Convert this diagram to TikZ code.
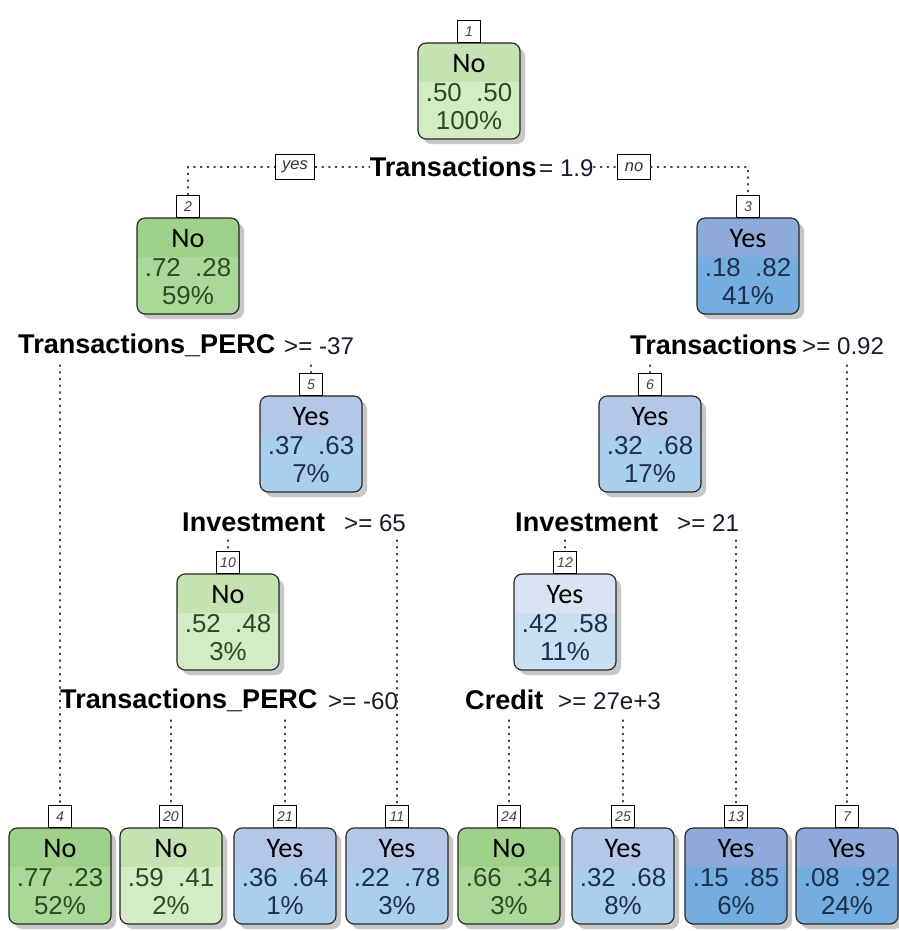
\documentclass[tikz,border=0pt]{standalone}
\usepackage{fontspec}
\setmainfont{Liberation Sans}
\newfontfamily\lblfont{Carlito}
\definecolor{gLtop}{HTML}{C5E2B3}
\definecolor{gLbot}{HTML}{D3ECC6}
\definecolor{gDtop}{HTML}{9FD18A}
\definecolor{gDbot}{HTML}{A9D899}
\definecolor{bLtop}{HTML}{B4C7E7}
\definecolor{bLbot}{HTML}{A9CFEC}
\definecolor{bXtop}{HTML}{DAE3F3}
\definecolor{bXbot}{HTML}{C8E0F2}
\definecolor{bDtop}{HTML}{8EAADB}
\definecolor{bDbot}{HTML}{74ADDF}
\definecolor{gtxt}{HTML}{2B4A22}
\definecolor{btxt}{HTML}{1E2E4E}
\definecolor{valtxt}{HTML}{1A1A2A}
\tikzset{
  nodeshadow/.style={fill=black!22, rounded corners=7pt},
  nodeborder/.style={draw=black!85, line width=1pt, rounded corners=7pt},
  classlab/.style={inner sep=0pt, font=\lblfont\fontsize{24}{24}\selectfont, text=black},
  numlab/.style={inner sep=0pt, font=\fontsize{22}{22}\selectfont},
  idbox/.style={anchor=south, draw=black, fill=white, line width=0.8pt, minimum height=19pt, minimum width=19pt, inner sep=2pt, font=\fontsize{12}{12}\selectfont\itshape, text=black!75},
  yesno/.style={draw=black, fill=white, line width=0.8pt, minimum height=21pt, inner xsep=6pt, inner ysep=2pt, font=\fontsize{14}{14}\selectfont\itshape, text=black!80},
  splitvar/.style={inner sep=0pt, font=\bfseries\fontsize{23}{23}\selectfont, text=black},
  splitval/.style={inner sep=0pt, font=\fontsize{20.5}{20.5}\selectfont, text=valtxt},
  conn/.style={draw=black!75, line width=1.1pt, dash pattern=on 1.1pt off 4.6pt, line cap=round}
}
\newcommand{\treenode}[8]{%
  \fill[nodeshadow] ({#2-51+5},{#3+5}) rectangle ({#2+51+5},{#3+96+5});
  \begin{scope}
    \clip[rounded corners=7pt] ({#2-51},#3) rectangle ({#2+51},{#3+96});
    \fill[#7top] ({#2-52},{#3-1}) rectangle ({#2+52},{#3+39});
    \fill[#7bot] ({#2-52},{#3+39}) rectangle ({#2+52},{#3+97});
  \end{scope}
  \draw[nodeborder] ({#2-51},#3) rectangle ({#2+51},{#3+96});
  \node[classlab] (lab#1) at (#2,{#3+21}) {#4};
  \node[numlab, text=#8] (prob#1) at (#2,{#3+50}) {#5};
  \node[numlab, text=#8] (pct#1) at (#2,{#3+78}) {#6};
  \node[idbox] (b#1) at (#2,#3) {#1};
}
\begin{document}
\begin{tikzpicture}[x=0.85pt,y=-0.85pt]
\useasboundingbox (0,0) rectangle (899,931);
\fill[white] (0,0) rectangle (899,931);

% ---- internal nodes
\treenode{1}{469}{43}{No}{.50\ \ .50}{100\%}{gL}{gtxt}
\treenode{2}{188}{218}{No}{.72\ \ .28}{59\%}{gD}{gtxt}
\treenode{3}{748}{218}{Yes}{.18\ \ .82}{41\%}{bD}{btxt}
\treenode{5}{311}{396}{Yes}{.37\ \ .63}{7\%}{bL}{btxt}
\treenode{6}{650}{396}{Yes}{.32\ \ .68}{17\%}{bL}{btxt}
\treenode{10}{228}{574}{No}{.52\ \ .48}{3\%}{gL}{gtxt}
\treenode{12}{565}{574}{Yes}{.42\ \ .58}{11\%}{bX}{btxt}

% ---- leaves
\treenode{4}{60}{828}{No}{.77\ \ .23}{52\%}{gD}{gtxt}
\treenode{20}{171}{828}{No}{.59\ \ .41}{2\%}{gL}{gtxt}
\treenode{21}{285}{828}{Yes}{.36\ \ .64}{1\%}{bL}{btxt}
\treenode{11}{397}{828}{Yes}{.22\ \ .78}{3\%}{bL}{btxt}
\treenode{24}{509}{828}{No}{.66\ \ .34}{3\%}{gD}{gtxt}
\treenode{25}{623}{828}{Yes}{.32\ \ .68}{8\%}{bL}{btxt}
\treenode{13}{736}{828}{Yes}{.15\ \ .85}{6\%}{bD}{btxt}
\treenode{7}{847}{828}{Yes}{.08\ \ .92}{24\%}{bD}{btxt}

% ---- split labels
\node[splitvar, anchor=east] (s1var) at (537,167) {Transactions};
\node[splitval, anchor=west] (s1val) at (539,168) {= 1.9};
\node[yesno] (yes) at (295,167) {yes};
\node[yesno] (no) at (634,167) {no};

\node[splitvar, anchor=west] (s2var) at (18,345) {Transactions\_PERC};
\node[splitval, anchor=west] (s2val) at (284,346) {>= -37};
\node[splitvar, anchor=west] (s3var) at (630,345) {Transactions};
\node[splitval, anchor=west] (s3val) at (802,346) {>= 0.92};

\node[splitvar, anchor=west] (s5var) at (182,522) {Investment};
\node[splitval, anchor=west] (s5val) at (344,523) {>= 65};
\node[splitvar, anchor=west] (s6var) at (515,522) {Investment};
\node[splitval, anchor=west] (s6val) at (677,523) {>= 21};

\node[splitvar, anchor=west] (s10var) at (60,700) {Transactions\_PERC};
\node[splitval, anchor=west] (s10val) at (328,701) {>= -60};
\node[splitvar, anchor=west] (s12var) at (465,700) {Credit};
\node[splitval, anchor=west] (s12val) at (558,701) {>= 27e+3};

% ---- connectors
\draw[conn] (b2.north) |- (yes.west);
\draw[conn] (yes.east) -- (s1var.west |- yes.east);
\draw[conn] (s1val.east |- no.west) -- (no.west);
\draw[conn] (no.east) -| (b3.north);

\coordinate (c4) at (60,365);
\coordinate (c5) at (311,365);
\coordinate (c6) at (650,365);
\coordinate (c7) at (847,365);
\coordinate (c10) at (228,540);
\coordinate (c11) at (397,540);
\coordinate (c12) at (565,540);
\coordinate (c13) at (736,540);
\coordinate (c20) at (171,720);
\coordinate (c21) at (285,720);
\coordinate (c24) at (509,720);
\coordinate (c25) at (623,720);
\foreach \a/\b in {c4/b4, c5/b5, c6/b6, c7/b7, c10/b10, c11/b11, c12/b12, c13/b13, c20/b20, c21/b21, c24/b24, c25/b25}
  \draw[conn] (\a) -- (\b.north);
\end{tikzpicture}
\end{document}
